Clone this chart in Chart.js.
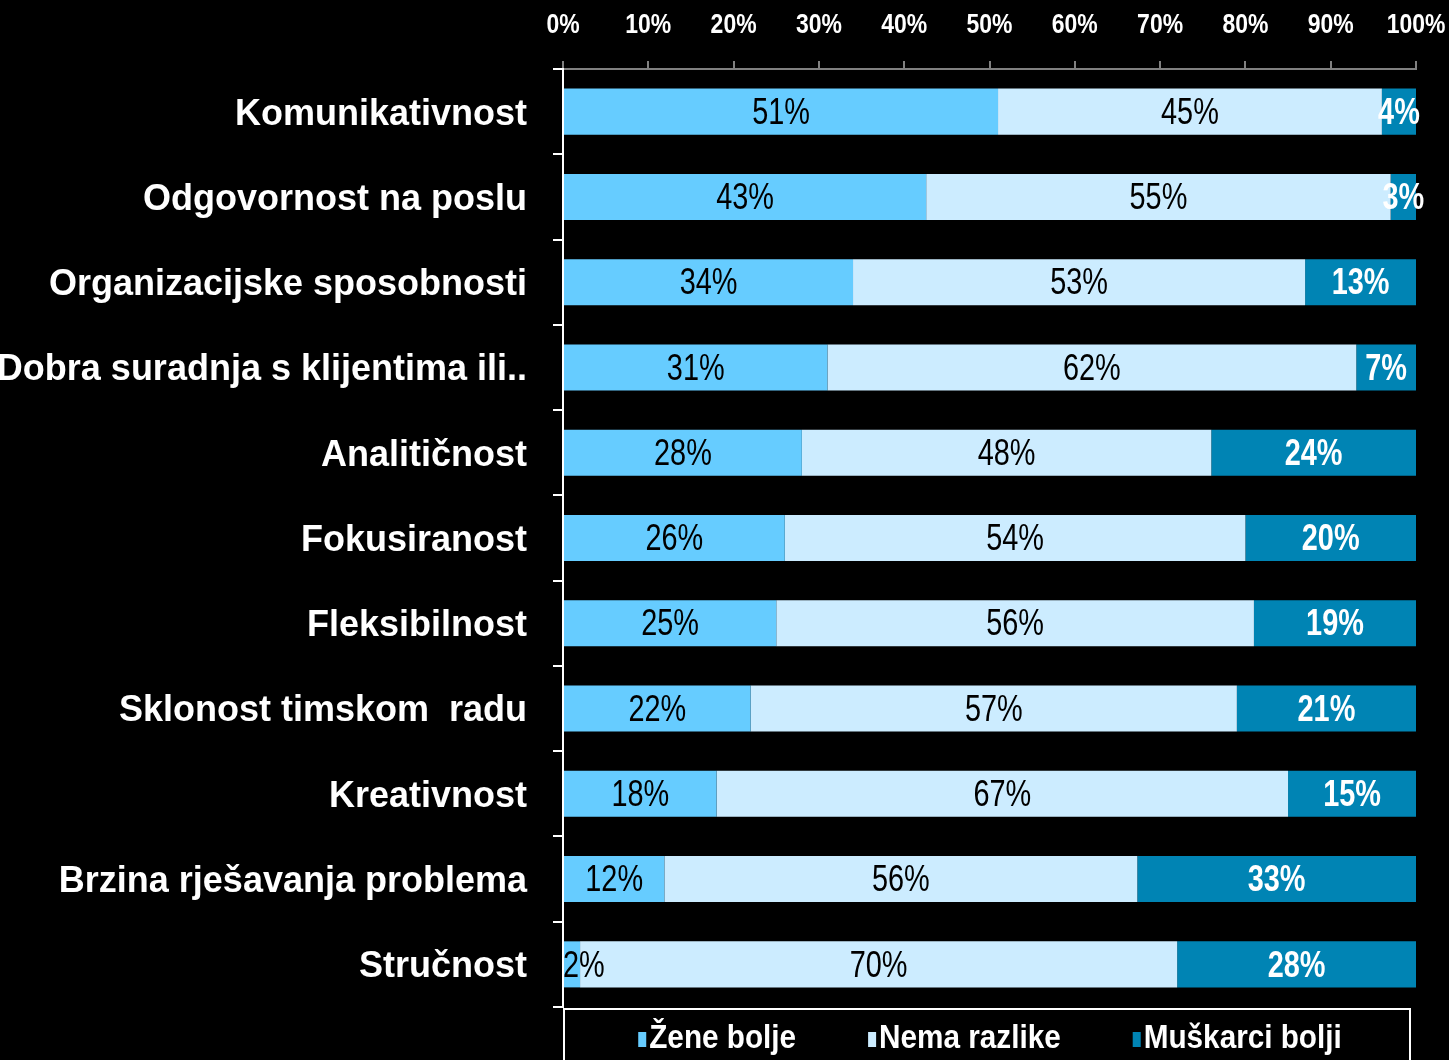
<!DOCTYPE html>
<html>
<head>
<meta charset="utf-8">
<script src="https://cdn.jsdelivr.net/npm/chart.js@4.4.0/dist/chart.umd.min.js"></script>
<style>
  body { margin: 0; background: #000; }
  #wrap { width: 1449px; height: 1060px; position: relative; }
</style>
</head>
<body>
<div id="wrap"><canvas id="vjestine"></canvas></div>
<script>
var kategorije = [
    'Komunikativnost',
    'Odgovornost na poslu',
    'Organizacijske sposobnosti',
    'Dobra suradnja s klijentima ili..',
    'Analitičnost',
    'Fokusiranost',
    'Fleksibilnost',
    'Sklonost timskom  radu',
    'Kreativnost',
    'Brzina rješavanja problema',
    'Stručnost'
];
var zene = [51, 43, 34, 31, 28, 26, 25, 22, 18, 12, 2];
var nema = [45, 55, 53, 62, 48, 54, 56, 57, 67, 56, 70];
var muskarci = [4, 3, 13, 7, 24, 20, 19, 21, 15, 33, 28];
var xTicks = [0, 10, 20, 30, 40, 50, 60, 70, 80, 90, 100];

var sans = '"Liberation Sans", Arial, sans-serif';

// 100% stacked: each row scaled to its own total
function udio(arr) {
    return arr.map(function (v, i) {
        return v / (zene[i] + nema[i] + muskarci[i]) * 100;
    });
}

// narrow text: no condensed font installed, so squeeze horizontally
function squeezed(ctx, txt, x, y, sx) {
    ctx.save();
    ctx.translate(x, y);
    ctx.scale(sx, 1);
    ctx.fillText(txt, 0, 0);
    ctx.restore();
}

var labelColors = ['#000', '#000', '#fff'];
var labelWeights = ['normal', 'normal', 'bold'];

var barLabels = {
    id: 'barLabels',
    afterDatasetsDraw: function (chart) {
        var ctx = chart.ctx;
        ctx.save();
        ctx.textBaseline = 'middle';
        ctx.textAlign = 'center';
        chart.data.datasets.forEach(function (ds, i) {
            ctx.fillStyle = labelColors[i];
            ctx.font = labelWeights[i] + ' 37px ' + sans;
            chart.getDatasetMeta(i).data.forEach(function (bar, j) {
                var p = bar.getProps(['x', 'y', 'base'], true);
                var txt = ds.raw[j] + '%';
                var w = ctx.measureText(txt).width * 0.78;
                var cx = (p.x + p.base) / 2;
                if (cx - w / 2 < chart.chartArea.left) cx = chart.chartArea.left + w / 2;
                squeezed(ctx, txt, cx, p.y + 2, 0.78);
            });
        });
        ctx.restore();
    }
};

// top axis labels, placed by the x scale
var topTicks = {
    id: 'topTicks',
    afterDraw: function (chart) {
        var ctx = chart.ctx;
        var sc = chart.scales.x;
        ctx.save();
        ctx.fillStyle = '#fff';
        ctx.font = 'bold 28px ' + sans;
        ctx.textAlign = 'center';
        ctx.textBaseline = 'middle';
        xTicks.forEach(function (v) {
            squeezed(ctx, v + '%', sc.getPixelForValue(v), 25, 0.82);
        });
        ctx.restore();
    }
};

// legend drawn in a framed box under the plot
var legendBox = {
    id: 'legendBox',
    afterDraw: function (chart) {
        var ctx = chart.ctx;
        var a = chart.chartArea;
        var sx = 0.9;
        ctx.save();
        ctx.strokeStyle = '#fff';
        ctx.lineWidth = 2;
        ctx.strokeRect(a.left + 1, a.bottom + 2, 846, 80);
        ctx.font = 'bold 33px ' + sans;
        ctx.textBaseline = 'middle';
        ctx.textAlign = 'left';
        var gap = 72, mark = 8, sp = 3;
        var widths = chart.data.datasets.map(function (ds) {
            return mark + sp + ctx.measureText(ds.label).width * sx;
        });
        var total = widths.reduce(function (s, w) { return s + w; }, 0) + gap * (widths.length - 1);
        var x = a.left + 423 - total / 2 + 4;
        var y = a.bottom + 32;
        chart.data.datasets.forEach(function (ds, i) {
            ctx.fillStyle = ds.backgroundColor;
            ctx.fillRect(x, y - 7, mark, 15);
            ctx.fillStyle = '#fff';
            squeezed(ctx, ds.label, x + mark + sp, y, sx);
            x += widths[i] + gap;
        });
        ctx.restore();
    }
};

var ctx = document.getElementById('vjestine').getContext('2d');
var chart = new Chart(ctx, {
    type: 'bar',
    data: {
        labels: kategorije,
        datasets: [
            { label: 'Žene bolje', data: udio(zene), raw: zene, backgroundColor: '#66CCFF' },
            { label: 'Nema razlike', data: udio(nema), raw: nema, backgroundColor: '#CCECFF' },
            { label: 'Muškarci bolji', data: udio(muskarci), raw: muskarci, backgroundColor: '#0084B4' }
        ]
    },
    options: {
        indexAxis: 'y',
        responsive: true,
        maintainAspectRatio: false,
        animation: false,
        layout: { padding: { top: 0, left: 0, right: 33, bottom: 53 } },
        datasets: { bar: { barPercentage: 0.54, categoryPercentage: 1 } },
        plugins: {
            legend: { display: false },
            tooltip: { enabled: false }
        },
        scales: {
            x: {
                position: 'top',
                stacked: true,
                min: 0,
                max: 100,
                afterBuildTicks: function (s) {
                    s.ticks = xTicks.map(function (v) { return { value: v }; });
                },
                afterFit: function (s) {
                    s.height = 69;
                    s.paddingLeft = 0;
                    s.paddingRight = 0;
                },
                ticks: { display: false },
                grid: { drawOnChartArea: false, tickLength: 8, color: '#808080', lineWidth: 2 },
                border: { color: '#808080', width: 2 }
            },
            y: {
                stacked: true,
                afterFit: function (s) { s.width = 563; },
                ticks: {
                    color: '#fff',
                    padding: 26,
                    labelOffset: 3,
                    autoSkip: false,
                    font: { family: sans, size: 36, weight: 'bold' }
                },
                grid: { offset: true, drawOnChartArea: false, tickLength: 10, color: '#fff', lineWidth: 2 },
                border: { color: '#fff', width: 2 }
            }
        }
    },
    plugins: [barLabels, topTicks, legendBox]
});
</script>
</body>
</html>
